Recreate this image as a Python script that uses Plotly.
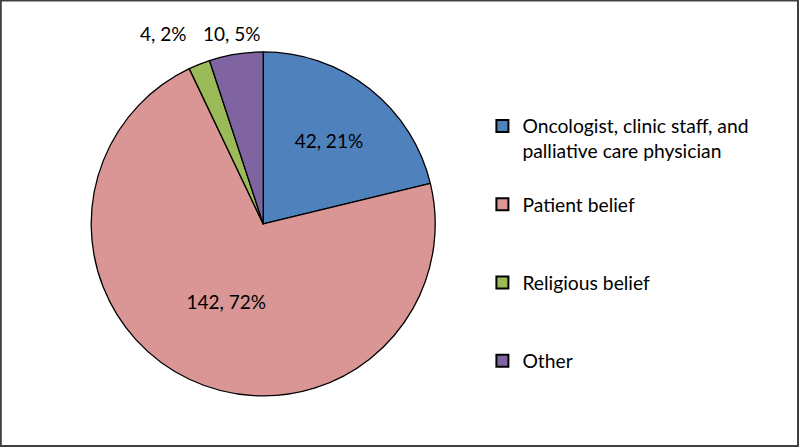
import plotly.graph_objects as go

categories = ["Oncologist, clinic staff, and<br>palliative care physician",
              "Patient belief", "Religious belief", "Other"]
values = [42, 142, 4, 10]
colors = ["#4F81BD", "#D99694", "#9BBB59", "#8064A2"]
# the two large slices are labelled inside by Plotly; the two thin ones are
# labelled above the pie (no leader lines), as in the reference
inside_label = [True, True, False, False]
outside_label_xy = [None, None, (0.204, 0.924), (0.290, 0.924)]

total = sum(values)
label_texts = [f"{v}, {round(100 * v / total)}%" for v in values]

# pad legend labels to 3 lines so entries are evenly spaced like the reference
legend_labels = []
for c in categories:
    n = c.count("<br>") + 1
    legend_labels.append(c + "<br> " * (3 - n))

FONT = "Lato"
FS = 19

fig = go.Figure(go.Pie(
    labels=legend_labels,
    values=values,
    sort=False,
    direction="clockwise",
    rotation=0,
    marker=dict(colors=colors, line=dict(color="#000000", width=1.3)),
    text=[t if ins else "" for t, ins in zip(label_texts, inside_label)],
    texttemplate="%{text}",
    textposition=["inside" if ins else "none" for ins in inside_label],
    textfont=dict(family=FONT, size=FS, color="#000000"),
    insidetextorientation="horizontal",
    domain=dict(x=[0.114, 0.544], y=[0.114, 0.884]),
    hoverinfo="label+value+percent",
))

annotations = []
for t, ins, xy in zip(label_texts, inside_label, outside_label_xy):
    if not ins:
        annotations.append(dict(text=t, x=xy[0], y=xy[1], xref="paper", yref="paper",
                                showarrow=False, xanchor="center", yanchor="middle",
                                font=dict(family=FONT, size=FS, color="#000000")))

fig.update_layout(
    width=800, height=447,
    margin=dict(l=0, r=0, t=0, b=0),
    paper_bgcolor="#FFFFFF",
    plot_bgcolor="#FFFFFF",
    font=dict(family=FONT, size=FS, color="#000000"),
    legend=dict(
        x=0.603, y=0.761, xanchor="left", yanchor="top",
        valign="top",
        font=dict(family=FONT, size=19.3, color="#000000"),
        itemsizing="constant",
        tracegroupgap=0,
    ),
    annotations=annotations,
    shapes=[dict(type="rect", xref="paper", yref="paper", x0=0.001, y0=0.002,
                 x1=0.9975, y1=0.999, line=dict(color="#404040", width=2))],
)

fig.write_html("out.html", config={"displayModeBar": False},
               post_script="document.body.style.margin='0';document.body.style.overflow='hidden';")
